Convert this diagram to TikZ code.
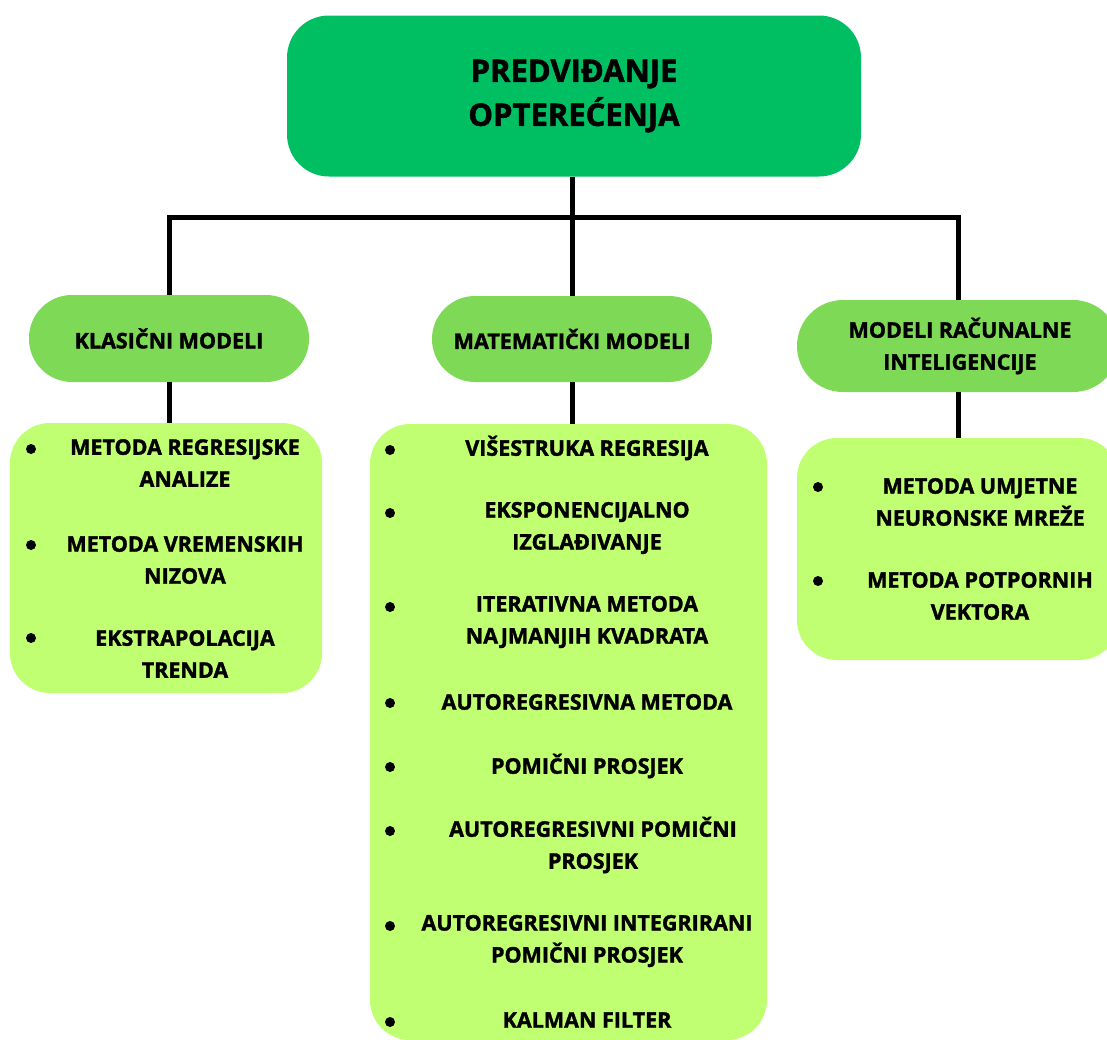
\documentclass[tikz,border=0pt]{standalone}
\usepackage{fontspec}
\setmainfont{Open Sans}[BoldFeatures={FakeBold=1.6}]
\definecolor{topc}{HTML}{00BF63}
\definecolor{midc}{HTML}{7ED957}
\definecolor{lowc}{HTML}{C1FF72}
\begin{document}
\begin{tikzpicture}[x=1pt,y=-1pt,
  conn/.style={line width=5pt,black},
  topbox/.style={fill=topc,rounded corners=42pt,minimum width=574pt,minimum height=161pt,inner sep=0pt,align=center,font=\fontsize{31}{44}\selectfont\bfseries},
  midbox/.style={fill=midc,rounded corners=43pt,inner sep=0pt,align=center,font=\fontsize{21.5}{32}\selectfont\bfseries},
  lowbox/.style={fill=lowc,rounded corners=40pt,inner sep=0pt},
  item/.style={align=center,inner sep=0pt,font=\fontsize{21.5}{32}\selectfont\bfseries},
  bul/.style={circle,fill=black,inner sep=0pt,minimum size=10pt}]
\useasboundingbox (0,0) rectangle (1107,1039);
\clip (0,0) rectangle (1107,1039);
\fill[white] (0,0) rectangle (1107,1039);
% boxes
\node[topbox] (top) at (574,96) {PREDVIĐANJE\\OPTEREĆENJA};
\node[midbox,minimum width=280pt,minimum height=87pt] (kla) at (169,338.5) {KLASIČNI MODELI};
\node[midbox,minimum width=280pt,minimum height=86pt] (mat) at (572,339) {MATEMATIČKI MODELI};
\node[midbox,minimum width=322pt,minimum height=92pt,rounded corners=46pt] (rac) at (958,346) {};
\node[item] (racl) at (960,346) {MODELI RAČUNALNE\\INTELIGENCIJE};
\node[lowbox,minimum width=312pt,minimum height=270pt] (klab) at (166,558) {};
\node[lowbox,minimum width=397pt,minimum height=616pt] (matb) at (568.5,732) {};
\node[lowbox,minimum width=322pt,minimum height=222pt] (racb) at (958,549) {};
% connectors
\coordinate (bar) at (572,217);
\draw[conn] (top.south -| mat.north) -- (mat.north);
\draw[conn] (kla.north) |- (bar) -| (rac.north);
\draw[conn] (kla.south) -- (kla.south |- klab.north);
\draw[conn] (mat.south) -- (mat.south |- matb.north);
\draw[conn] (rac.south) -- (racb.north);
% left items
\node[bul] (b1) at (31,449) {};
\node[item] (t1) at (185,463) {METODA REGRESIJSKE\\ANALIZE};
\node[bul] (b2) at (31,545) {};
\node[item] (t2) at (185,560) {METODA VREMENSKIH\\NIZOVA};
\node[bul] (b3) at (31,638) {};
\node[item] (t3) at (185,654) {EKSTRAPOLACIJA\\TRENDA};
% middle items
\node[bul] (m1) at (390,450) {};
\node[item] (u1) at (587,448) {VIŠESTRUKA REGRESIJA};
\node[bul] (m2) at (390,513) {};
\node[item] (u2) at (587,528) {EKSPONENCIJALNO\\IZGLAĐIVANJE};
\node[bul] (m3) at (390,607) {};
\node[item] (u3) at (587,622) {ITERATIVNA METODA\\NAJMANJIH KVADRATA};
\node[bul] (m4) at (390,703) {};
\node[item] (u4) at (587,702) {AUTOREGRESIVNA METODA};
\node[bul] (m5) at (390,767) {};
\node[item] (u5) at (587,766) {POMIČNI PROSJEK};
\node[bul] (m6) at (390,831) {};
\node[item] (u6) at (593,845) {AUTOREGRESIVNI POMIČNI\\PROSJEK};
\node[bul] (m7) at (390,926) {};
\node[item] (u7) at (587,941) {AUTOREGRESIVNI INTEGRIRANI\\POMIČNI PROSJEK};
\node[bul] (m8) at (390,1022) {};
\node[item] (u8) at (587,1020) {KALMAN FILTER};
% right items
\node[bul] (r1) at (818,487) {};
\node[item] (v1) at (980,502) {METODA UMJETNE\\NEURONSKE MREŽE};
\node[bul] (r2) at (818,581) {};
\node[item] (v2) at (980,596) {METODA POTPORNIH\\VEKTORA};
\end{tikzpicture}
\end{document}
